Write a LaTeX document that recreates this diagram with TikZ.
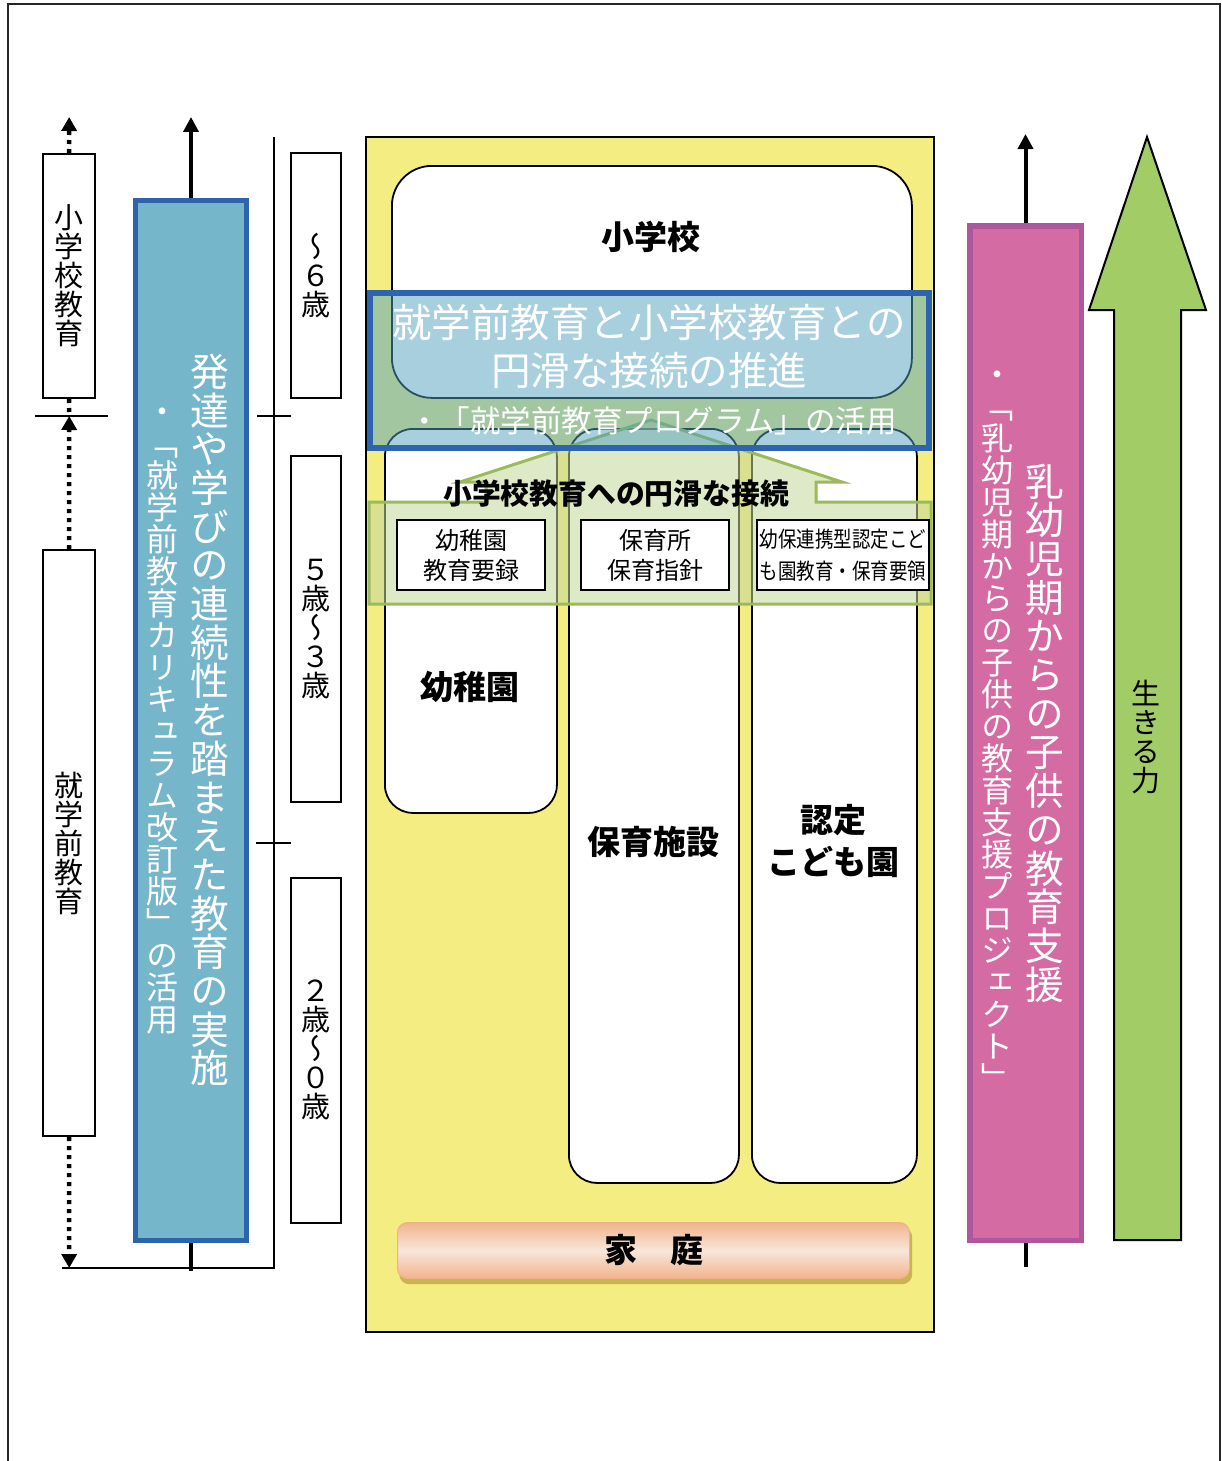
\documentclass[tikz,border=0pt]{standalone}
\usepackage{fontspec}
\setmainfont{Noto Sans CJK JP}
\newfontfamily\vjp[RawFeature=+vert]{Noto Sans CJK JP}
\usetikzlibrary{arrows.meta}
\definecolor{yel}{HTML}{F3ED82}
\definecolor{bluebord}{HTML}{2E64AE}
\definecolor{bluefill}{HTML}{76B6CB}
\definecolor{framefill}{HTML}{50A0BE}
\definecolor{bandfill}{HTML}{C4D79B}
\definecolor{bandline}{HTML}{9BBB59}
\definecolor{pinkfill}{HTML}{D46BA3}
\definecolor{pinkbord}{HTML}{AE569E}
\definecolor{arrgreen}{HTML}{A2CD66}
\definecolor{peachA}{HTML}{F1B48C}
\definecolor{peachB}{HTML}{F8E6DA}
\definecolor{peachline}{HTML}{EFB08A}
\definecolor{shadowc}{HTML}{C9B54E}
% stack the characters of a string one per line (vertical writing)
\def\vtxtend{\vtxtend}
\def\vgob#1{}
\def\vone#1{#1}
\def\vtxt#1{\vtxtB#1\vtxtend}
\def\vtxtB#1{#1\vtxtC}
\def\vtxtC#1{\ifx\vtxtend#1\expandafter\vgob\else\expandafter\vone\fi{\\\vtxtB#1}}
\newcommand\vfont[1]{\vjp\fontsize{#1}{#1}\selectfont\lineskiplimit=-20pt\lineskip=0pt}
\tikzset{
  thinline/.style={line width=2pt, black},
  box/.style={draw, line width=1.6pt, fill=white, inner sep=0pt, anchor=north west},
  colbox/.style={draw, line width=1.8pt, fill=white, rounded corners=28pt, inner sep=0pt, anchor=north west},
  smallbox/.style={draw, line width=2pt, fill=white, inner sep=0pt, anchor=north west, minimum height=72pt, align=center},
  vtext/.style={inner sep=0pt, align=center, font=\vfont{#1}},
  blkarrow/.style={line width=4pt, -{Triangle[width=15pt,length=15pt]}},
  dotline/.style={line width=4.5pt, dash pattern=on 4pt off 5pt},
  dotarrow/.style={dotline, -{Triangle[width=15pt,length=14pt]}},
  bold/.style={font=\bfseries\fontsize{#1}{#1}\selectfont},
}
\begin{document}
\begin{tikzpicture}[x=1pt,y=-1pt]
\useasboundingbox (0,0) rectangle (1221,1461);
% outer frame
\draw[line width=1.5pt, black!85] (8,1461) -- (8,4) -- (1220,4) -- (1220,1461);

% ---- left column: school stages
\node[box, minimum width=52.4pt, minimum height=244.4pt] (shogaku) at (42,153) {};
\node[vtext=29] (shogakut) at (shogaku.center) {\vtxt{小学校教育}};
\node[box, minimum width=52.4pt, minimum height=586.4pt] (shugaku) at (42,549) {};
\node[vtext=29] (shugakut) at (shugaku.center) {\vtxt{就学前教育}};
\coordinate (topdot) at (69.2,117);
\coordinate (middot) at (69.2,416);
\coordinate (botdot) at (69.2,1268);
\draw[dotarrow] (shogaku.north) -- (topdot);
\draw[dotline] (shogaku.south) -- (middot);
\draw[dotarrow] (shugaku.north) -- (middot);
\draw[dotarrow] (shugaku.south) -- (botdot);
\draw[thinline] (35,416) -- (108,416);

% ---- bracket with age ticks
\draw[thinline] (274,137) -- (274,1268) -- (62,1268);
\draw[thinline] (257,416) -- (291,416);
\draw[thinline] (256,843) -- (291,843);

% ---- blue box
\node[draw=bluebord, line width=5pt, fill=bluefill, minimum width=111pt, minimum height=1040pt, anchor=north west, inner sep=0pt] (hattatsu) at (133,198) {};
\coordinate (bluetop) at (191,117);
\coordinate (bluebot) at (191,1271);
\draw[blkarrow] (hattatsu.north) -- (bluetop);
\draw[line width=4pt] (hattatsu.south) -- (bluebot);
\node[vtext=38.7, white] (hattatsuA) at (210,720) {\vtxt{発達や学びの連続性を踏まえた教育の実施}};
\node[vtext=32, white] (hattatsuB) at (162,721) {\vtxt{・「就学前教育カリキュラム改訂版」の活用}};

% ---- age boxes
\node[box, minimum width=50pt, minimum height=245pt] (age6) at (290,152) {};
\node[vtext=29] (age6t) at (age6.center) {\vtxt{〜６歳}};
\node[box, minimum width=50pt, minimum height=346pt] (age53) at (290,455) {};
\node[vtext=29] (age53t) at (age53.center) {\vtxt{５歳〜３歳}};
\node[box, minimum width=50pt, minimum height=345pt] (age20) at (290,877) {};
\node[vtext=29] (age20t) at (age20.center) {\vtxt{２歳〜０歳}};

% ---- yellow area
\node[draw, line width=1.6pt, fill=yel, minimum width=568.4pt, minimum height=1195.4pt, anchor=north west, inner sep=0pt] (yellow) at (365,136) {};
\node[colbox, rounded corners=40pt, minimum width=520pt, minimum height=232pt] (elem) at (391,165) {};
\node[bold=33] (elemt) at (651,237) {小学校};
\node[colbox, minimum width=172pt, minimum height=384pt] (yochien) at (384,428) {};
\node[colbox, minimum width=170pt, minimum height=754pt] (hoiku) at (568,428) {};
\node[colbox, minimum width=165pt, minimum height=754pt] (nintei) at (751,428) {};
\node[bold=33] (yochient) at (470,687) {幼稚園};
\node[bold=33] (hoikut) at (653,842) {保育施設};
\node[align=center, font=\bfseries\fontsize{33}{42}\selectfont] (ninteit) at (833,841) {認定\\こども園};

% green band with arrow
\draw[draw=bandline, line width=3pt, fill=bandfill, fill opacity=0.55]
  (369,502) -- (486,502) -- (486,482) -- (460,482) -- (651,420) -- (842,482)
  -- (816,482) -- (816,502) -- (931,502) -- (931,604) -- (369,604) -- cycle;
\node[smallbox, minimum width=148pt, minimum height=70pt, font=\fontsize{24}{30}\selectfont] (yoroku) at (396,519) {幼稚園\\教育要録};
\node[smallbox, minimum width=148pt, minimum height=70pt, font=\fontsize{24}{30}\selectfont] (shishin) at (580,519) {保育所\\保育指針};
\node[smallbox, minimum width=172pt, minimum height=70pt, font=\fontsize{22}{32}\selectfont] (yoryo) at (756,519) {\scalebox{0.84}[1]{幼保連携型認定こど}\\\scalebox{0.84}[1]{も園教育・保育要領}};
\node[bold=28.8] (setsuzoku) at (616,494) {小学校教育への円滑な接続};

% blue highlighted frame
\node[draw=bluebord, line width=6pt, fill=framefill, fill opacity=0.5, draw opacity=1, minimum width=559pt, minimum height=155pt, anchor=north west, inner sep=0pt] (suishin) at (367,290) {};
\node[white, align=center, font=\fontsize{39.5}{48}\selectfont] (suishint) at (649,346) {就学前教育と小学校教育との\\円滑な接続の推進};
\node[white, font=\fontsize{30.5}{30.5}\selectfont] (programt) at (653,421) {・「就学前教育プログラム」の活用};

% family bar
\node[fill=shadowc, rounded corners=10pt, minimum width=513pt, minimum height=57pt, anchor=north west, inner sep=0pt] (kateish) at (399,1227) {};
\node[draw=peachline, line width=1pt, rounded corners=10pt, top color=peachA, bottom color=peachA, middle color=peachB, minimum width=512pt, minimum height=56pt, anchor=north west, inner sep=0pt] (katei) at (397,1222) {};
\node[bold=33] (kateit) at (katei.center) {家　庭};

% ---- pink box
\node[draw=pinkbord, line width=5.5pt, fill=pinkfill, minimum width=111.5pt, minimum height=1014.5pt, anchor=north west, inner sep=0pt] (nyuyoji) at (967,223) {};
\coordinate (pinktop) at (1025.5,134);
\coordinate (pinkbot) at (1025.5,1267);
\draw[blkarrow] (nyuyoji.north) -- (pinktop);
\draw[line width=4pt] (nyuyoji.south) -- (pinkbot);
\node[vtext=38.7, white] (nyuyojiA) at (1045,733) {\vtxt{乳幼児期からの子供の教育支援}};
\node[vtext=32, white] (nyuyojiB) at (997,731) {\vtxt{・「乳幼児期からの子供の教育支援プロジェクト」}};

% ---- big green arrow
\draw[line width=2pt, fill=arrgreen] (1147,137) -- (1206,310) -- (1181,310) -- (1181,1240)
  -- (1114,1240) -- (1114,310) -- (1089,310) -- cycle;
\node[vtext=29] (ikiru) at (1146,737) {\vtxt{生きる力}};
\end{tikzpicture}
\end{document}
